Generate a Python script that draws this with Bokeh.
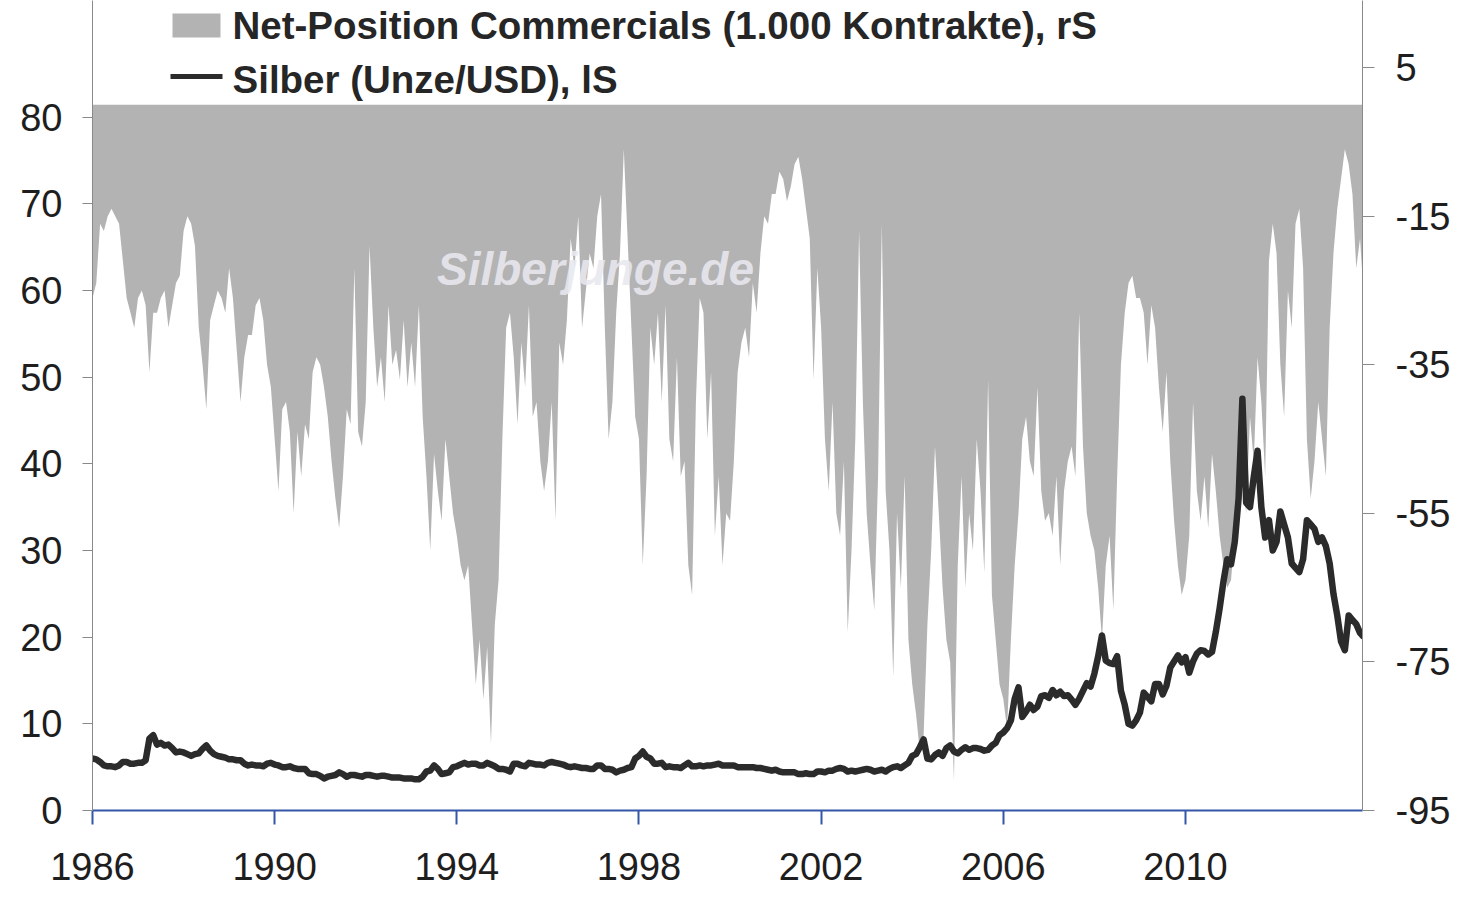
from bokeh.plotting import figure
from bokeh.models import Range1d, LinearAxis, FixedTicker, Label, PrintfTickFormatter
from bokeh.embed import file_html
from bokeh.resources import INLINE

# ---------------- data (monthly) ----------------
start_year = 1986

# Silver price (USD per ounce), left scale, one row per year (Jan..Dec)
silver = [
    6.0, 5.9, 5.6, 5.2, 5.1, 5.1, 5.0, 5.2, 5.6, 5.6, 5.4, 5.4,        # 1986
    5.5, 5.5, 5.8, 8.3, 8.7, 7.6, 7.8, 7.5, 7.6, 7.2, 6.7, 6.8,        # 1987
    6.7, 6.5, 6.3, 6.5, 6.6, 7.1, 7.5, 6.9, 6.5, 6.3, 6.2, 6.1,        # 1988
    5.9, 5.9, 5.8, 5.8, 5.4, 5.2, 5.3, 5.2, 5.2, 5.1, 5.4, 5.5,        # 1989
    5.3, 5.2, 5.0, 5.0, 5.1, 4.9, 4.8, 4.8, 4.8, 4.3, 4.2, 4.2,        # 1990
    4.0, 3.7, 3.9, 4.0, 4.1, 4.4, 4.2, 3.9, 4.1, 4.1, 4.0, 3.9,        # 1991
    4.1, 4.1, 4.0, 3.9, 4.0, 4.0, 3.9, 3.8, 3.8, 3.8, 3.7, 3.7,        # 1992
    3.7, 3.6, 3.6, 3.9, 4.5, 4.6, 5.2, 4.8, 4.2, 4.3, 4.4, 5.0,        # 1993
    5.1, 5.3, 5.5, 5.3, 5.4, 5.4, 5.2, 5.2, 5.5, 5.3, 5.1, 4.8,        # 1994
    4.8, 4.7, 4.5, 5.4, 5.4, 5.2, 5.1, 5.5, 5.4, 5.3, 5.3, 5.2,        # 1995
    5.5, 5.6, 5.5, 5.4, 5.3, 5.1, 5.0, 5.1, 5.0, 4.9, 4.9, 4.8,        # 1996
    4.8, 5.2, 5.2, 4.8, 4.8, 4.7, 4.4, 4.6, 4.7, 4.9, 5.0, 6.0,        # 1997
    6.3, 6.8, 6.2, 6.0, 5.4, 5.4, 5.5, 5.0, 5.1, 5.0, 5.0, 4.9,        # 1998
    5.2, 5.5, 5.1, 5.1, 5.2, 5.1, 5.2, 5.2, 5.3, 5.4, 5.2, 5.2,        # 1999
    5.2, 5.2, 5.0, 5.0, 5.0, 5.0, 5.0, 4.9, 4.9, 4.8, 4.7, 4.6,        # 2000
    4.7, 4.5, 4.4, 4.4, 4.4, 4.4, 4.2, 4.2, 4.3, 4.2, 4.2, 4.5,        # 2001
    4.5, 4.4, 4.6, 4.6, 4.8, 4.9, 4.8, 4.5, 4.6, 4.5, 4.6, 4.7,        # 2002
    4.8, 4.7, 4.5, 4.6, 4.7, 4.5, 4.8, 5.0, 5.1, 4.9, 5.2, 5.5,        # 2003
    6.3, 6.5, 7.3, 8.2, 6.0, 5.9, 6.4, 6.7, 6.3, 7.2, 7.5, 6.8,        # 2004
    6.6, 7.0, 7.3, 7.0, 7.2, 7.2, 7.1, 6.9, 7.0, 7.5, 7.8, 8.7,        # 2005
    9.0, 9.5, 10.4, 12.9, 14.2, 10.8, 11.4, 12.2, 11.6, 12.0, 13.2, 13.3,  # 2006
    13.0, 13.9, 13.3, 13.7, 13.2, 13.3, 12.8, 12.2, 12.9, 13.8, 14.7, 14.3,  # 2007
    15.8, 17.8, 20.2, 17.3, 17.0, 16.9, 17.8, 13.8, 12.2, 10.0, 9.8, 10.4,   # 2008
    11.3, 13.6, 13.1, 12.6, 14.6, 14.6, 13.4, 14.4, 16.5, 17.2, 17.9, 17.1,  # 2009
    17.7, 15.9, 17.2, 18.1, 18.5, 18.4, 18.0, 18.3, 20.6, 23.3, 26.4, 29.0,  # 2010
    28.4, 31.0, 36.0, 47.5, 35.5, 35.0, 38.5, 41.5, 35.0, 31.5, 33.5, 30.0,  # 2011
    31.0, 34.5, 33.0, 31.5, 28.5, 28.0, 27.5, 29.0, 33.5, 33.0, 32.5, 31.0,  # 2012
    31.5, 30.5, 28.5, 25.0, 22.5, 19.5, 18.5, 22.5, 22.0, 21.5, 20.5, 20.0,  # 2013
]

# Net position of commercials (1,000 contracts), right scale
net_position = [
    -26, -24, -16, -17, -15, -14, -15, -16, -21, -26, -28, -30,  # 1986
    -26, -25, -27, -36, -28, -28, -26, -25, -30, -27, -24, -23,  # 1987
    -17, -15, -16, -19, -30, -35, -41, -29, -27, -25, -26, -28,  # 1988
    -22, -26, -33, -40, -34, -31, -31, -27, -26, -29, -35, -38,  # 1989
    -45, -52, -41, -40, -44, -55, -44, -50, -43, -45, -36, -34,  # 1990
    -35, -38, -42, -48, -53, -57, -50, -41, -43, -22, -44, -46,  # 1991
    -40, -19, -30, -38, -34, -40, -27, -35, -33, -37, -29, -38,  # 1992
    -32, -38, -27, -42, -50, -60, -47, -52, -56, -45, -50, -55,  # 1993
    -58, -62, -64, -62, -70, -78, -72, -80, -73, -86, -70, -64,  # 1994
    -45, -30, -28, -34, -43, -32, -38, -27, -42, -40, -48, -52,  # 1995
    -48, -40, -56, -32, -35, -29, -18, -22, -15, -30, -25, -20,  # 1996
    -22, -15, -12, -30, -45, -40, -28, -20, -6, -18, -30, -42,   # 1997
    -45, -62, -50, -30, -35, -28, -40, -27, -45, -48, -34, -50,  # 1998
    -48, -62, -66, -40, -26, -28, -45, -36, -58, -50, -62, -55,  # 1999
    -56, -48, -36, -32, -30, -34, -24, -28, -20, -15, -16, -12,  # 2000
    -12, -9, -10, -13, -11, -8, -7, -10, -14, -18, -37, -22,     # 2001
    -30, -45, -52, -40, -55, -58, -48, -71, -60, -45, -17, -40,  # 2002
    -55, -62, -68, -50, -16, -52, -60, -77, -55, -65, -50, -72,  # 2003
    -78, -82, -87, -85, -70, -60, -46, -55, -65, -72, -75, -91,  # 2004
    -62, -50, -65, -55, -60, -45, -52, -63, -37, -66, -72, -78,  # 2005
    -80, -84, -72, -62, -55, -45, -42, -48, -50, -38, -52, -56,  # 2006
    -55, -58, -50, -62, -52, -48, -46, -50, -28, -46, -55, -58,  # 2007
    -60, -65, -72, -62, -58, -68, -50, -35, -28, -24, -23, -26,  # 2008
    -26, -28, -35, -27, -30, -38, -44, -36, -48, -56, -62, -66,  # 2009
    -64, -58, -40, -52, -56, -50, -57, -47, -52, -58, -62, -65,  # 2010
    -64, -58, -45, -50, -55, -42, -48, -34, -40, -50, -21, -16,  # 2011
    -20, -35, -42, -25, -30, -16, -14, -22, -45, -53, -48, -40,  # 2012
    -45, -50, -30, -20, -14, -10, -6, -8, -12, -22, -18, -26,    # 2013
]

months = [start_year + i / 12 for i in range(len(silver))]

year_ticks = [1986, 1990, 1994, 1998, 2002, 2006, 2010]
left_ticks = [0, 10, 20, 30, 40, 50, 60, 70, 80]
right_ticks = [-95, -75, -55, -35, -15, 5]

legend_area = "Net-Position Commercials (1.000 Kontrakte), rS"
legend_line = "Silber (Unze/USD), lS"
watermark = "Silberjunge.de"

# ---------------- layout ----------------
FONT = "Liberation Sans"
GRAY = "#b3b3b3"
LINE = "#2b2b2b"
BLUE = "#3556a8"

W, H = 1460, 895
FRAME_L, FRAME_R, FRAME_B = 92, 1362, 810      # frame edges in page px
PX_PER_YEAR = 45.54
PX_PER_LEFT = 780 / 90                          # px per unit, left scale
PX_PER_RIGHT = 780 / 105                        # px per unit, right scale

X0 = 1986.0
X1 = X0 + (FRAME_R - FRAME_L) / PX_PER_YEAR
LEFT_MAX = FRAME_B / PX_PER_LEFT
RIGHT_MIN = -95.0
RIGHT_MAX = RIGHT_MIN + FRAME_B / PX_PER_RIGHT

p = figure(width=W, height=H,
           x_range=Range1d(X0, X1), y_range=Range1d(0, LEFT_MAX),
           output_backend="svg", toolbar_location=None,
           min_border_left=FRAME_L, min_border_right=W - FRAME_R,
           min_border_top=0, min_border_bottom=H - FRAME_B)
p.extra_y_ranges = {"right": Range1d(RIGHT_MIN, RIGHT_MAX)}
p.outline_line_color = None
p.xgrid.visible = False
p.ygrid.visible = False
p.background_fill_color = "white"
p.border_fill_color = "white"

# page-pixel -> data helpers for legend placement
def px_x(px):
    return X0 + (px - FRAME_L) / PX_PER_YEAR

def px_y(py):
    return (FRAME_B - py) / PX_PER_LEFT

# net position area (right scale)
p.varea(x=months, y1=0, y2=net_position, fill_color=GRAY, y_range_name="right")

# silver price (left scale)
p.line(months, silver, line_color=LINE, line_width=6.5, line_join="round")

# axes
xa = p.xaxis[0]
xa.ticker = FixedTicker(ticks=year_ticks)
xa.formatter = PrintfTickFormatter(format="%d")
xa.axis_line_color = BLUE
xa.axis_line_width = 2
xa.major_tick_line_color = BLUE
xa.major_tick_line_width = 2
xa.major_tick_in = 0
xa.major_tick_out = 14
xa.minor_tick_line_color = None
xa.major_label_text_font = FONT
xa.major_label_text_font_size = "38px"
xa.major_label_text_color = "#1e1e1e"
xa.major_label_standoff = 28

ya = p.yaxis[0]
ya.ticker = FixedTicker(ticks=left_ticks)
ya.formatter = PrintfTickFormatter(format="%d")
ya.axis_line_color = "#8a8a8a"
ya.major_tick_line_color = "#8a8a8a"
ya.major_tick_in = 0
ya.major_tick_out = 10
ya.minor_tick_line_color = None
ya.major_label_text_font = FONT
ya.major_label_text_font_size = "38px"
ya.major_label_text_color = "#1e1e1e"
ya.major_label_standoff = 20

ra = LinearAxis(y_range_name="right", ticker=FixedTicker(ticks=right_ticks),
                formatter=PrintfTickFormatter(format="%d"))
ra.axis_line_color = "#8a8a8a"
ra.major_tick_line_color = "#8a8a8a"
ra.major_tick_in = 0
ra.major_tick_out = 12
ra.minor_tick_line_color = None
ra.major_label_text_font = FONT
ra.major_label_text_font_size = "38px"
ra.major_label_text_color = "#1e1e1e"
ra.major_label_standoff = 21
p.add_layout(ra, "right")

# legend (manual)
p.quad(left=[px_x(172)], right=[px_x(220)], top=[px_y(13)], bottom=[px_y(37)],
       fill_color=GRAY, line_color=None)
p.line([px_x(170), px_x(222)], [px_y(76), px_y(76)], line_color=LINE, line_width=5)
p.add_layout(Label(x=px_x(232), y=px_y(25), text=legend_area,
                   text_font=FONT, text_font_size="38.5px", text_font_style="bold",
                   text_baseline="alphabetic", text_color="#262626"))
p.add_layout(Label(x=px_x(232), y=px_y(79), text=legend_line,
                   text_font=FONT, text_font_size="38.5px", text_font_style="bold",
                   text_baseline="alphabetic", text_color="#262626"))

# watermark
p.add_layout(Label(x=px_x(595), y=px_y(268), text=watermark, text_align="center",
                   text_font=FONT, text_font_size="46px", text_font_style="bold italic",
                   text_baseline="alphabetic", text_color="#e8e8ef", text_alpha=0.9))

open("out.html", "w").write(file_html(p, INLINE))
